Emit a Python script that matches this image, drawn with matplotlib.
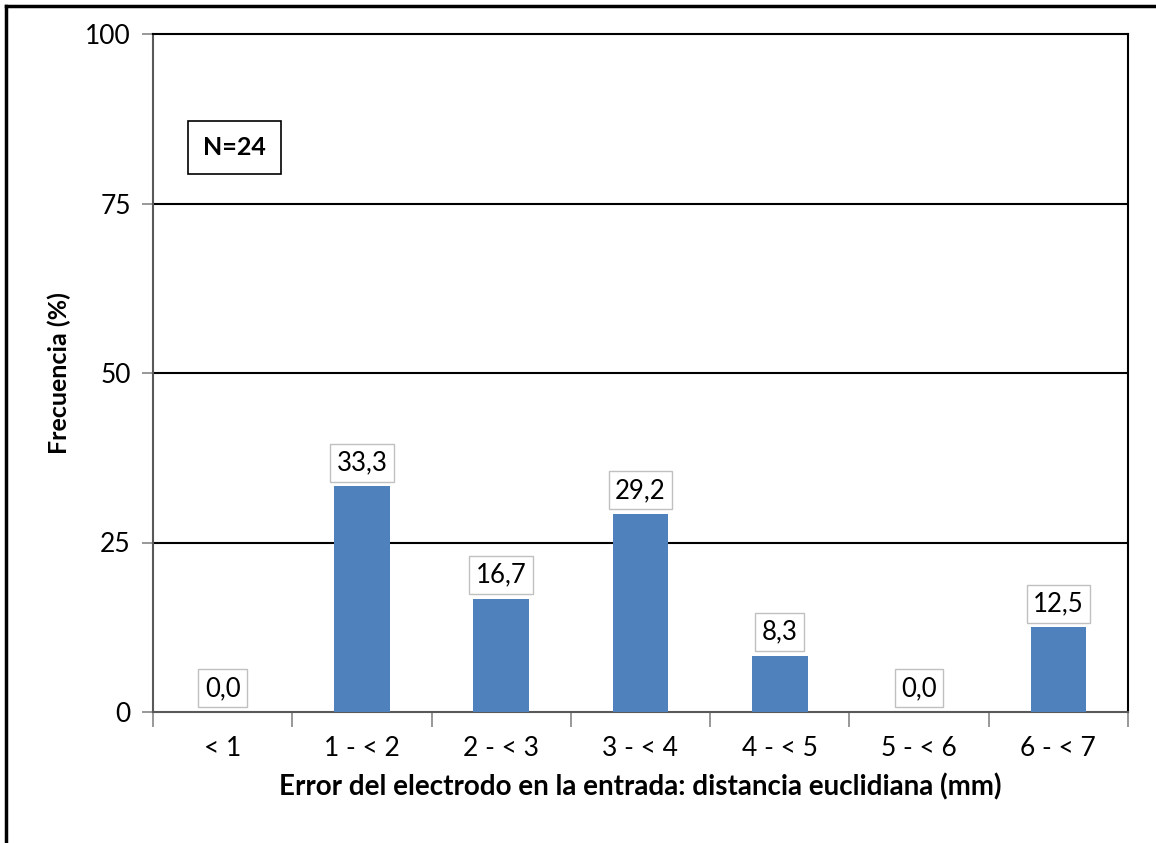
import matplotlib
matplotlib.use("Agg")
import matplotlib.pyplot as plt
from matplotlib.lines import Line2D

plt.rcParams['font.family'] = ['Lato', 'DejaVu Sans']

categories = ["< 1", "1 - < 2", "2 - < 3", "3 - < 4", "4 - < 5", "5 - < 6", "6 - < 7"]
frecuencia = [0.0, 33.3, 16.7, 29.2, 8.3, 0.0, 12.5]
y_ticks = [0, 25, 50, 75, 100]

FS = 19
W, H = 1156, 843
fig = plt.figure(figsize=(W / 100, H / 100), dpi=100)
ax = fig.add_axes([153 / W, 1 - 712 / H, (1128 - 153) / W, (712 - 34) / H])

x = list(range(len(categories)))
ax.bar(x, frecuencia, width=0.4, color="#4F81BD", zorder=3)

ax.set_xlim(-0.5, len(categories) - 0.5)
ax.set_ylim(0, 100)
ax.set_yticks(y_ticks)
ax.set_yticklabels([str(v) for v in y_ticks], fontsize=FS)
ax.set_xticks(x)
ax.set_xticklabels(categories, fontsize=FS)
ax.tick_params(axis="x", length=0, pad=17)
ax.set_xticks([i - 0.5 for i in range(len(categories) + 1)], minor=True)
ax.tick_params(axis="x", which="minor", length=11, width=1.2, color="#868686", direction="out")
ax.tick_params(axis="y", length=8, width=1.2, color="#868686", pad=8)

for v in y_ticks[1:-1]:
    ax.axhline(v, color="black", lw=1.5, zorder=2)

for side in ("top", "right"):
    ax.spines[side].set_color("black")
    ax.spines[side].set_linewidth(1.5)
for side in ("left", "bottom"):
    ax.spines[side].set_color("#595959")
    ax.spines[side].set_linewidth(1.5)

for xi, v in zip(x, frecuencia):
    ax.annotate(f"{v:.1f}".replace(".", ","), (xi, v), xytext=(0, 8),
                textcoords="offset points", ha="center", va="bottom", fontsize=18.5,
                bbox=dict(boxstyle="square,pad=0.25", fc="white", ec="#C0C0C0", lw=1),
                zorder=4)

ax.text(0.084, 0.832, "N=24", transform=ax.transAxes, ha="center", va="center",
        fontsize=18, fontweight="bold",
        bbox=dict(boxstyle="square,pad=0.6", fc="white", ec="black", lw=1.2))

ax.set_ylabel("Frecuencia (%)", fontsize=18, fontweight="bold", labelpad=10)
ax.set_xlabel("Error del electrodo en la entrada: distancia euclidiana (mm)",
              fontsize=20, fontweight="bold", labelpad=9)

fig.add_artist(Line2D([5.5 / W, 5.5 / W], [0, 1 - 6 / H], color="black", lw=2.5))
fig.add_artist(Line2D([5.5 / W, 1], [1 - 6 / H, 1 - 6 / H], color="black", lw=2.5))

fig.savefig("out.png", dpi=100)
